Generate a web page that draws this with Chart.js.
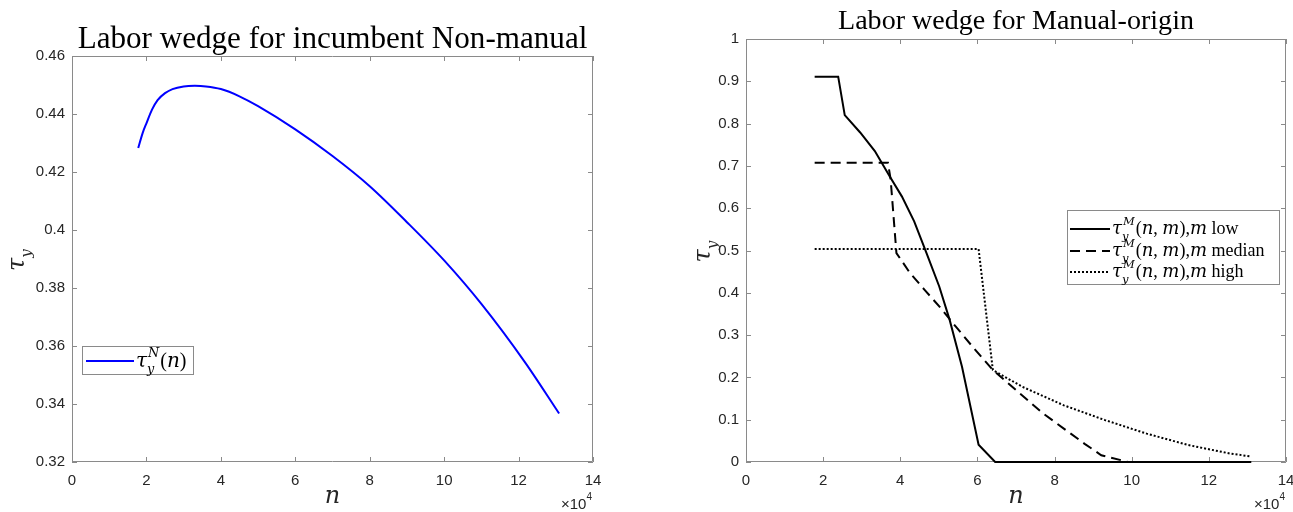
<!DOCTYPE html>
<html>
<head>
<meta charset="utf-8">
<script src="https://cdn.jsdelivr.net/npm/chart.js@4.4.1/dist/chart.umd.min.js"></script>
<style>
  html, body { margin: 0; padding: 0; background: #fff; }
  .panel { position: absolute; top: 0; }
</style>
</head>
<body>
<div class="panel" style="left:0"><canvas id="nonmanual-chart" width="646" height="512"></canvas></div>
<div class="panel" style="left:646px"><canvas id="manual-chart" width="647" height="512"></canvas></div>
<script>
// n en unidades de 10^4
const nonManualN = [1.78, 1.9, 2.0, 2.15, 2.3, 2.5, 2.7, 3.0, 3.3, 3.6, 4.0, 4.5, 5.0, 6.0, 7.0, 8.0, 9.0, 10.0, 11.0, 12.16, 13.09];
const nonManualTau = [0.4283, 0.4335, 0.4368, 0.4415, 0.4448, 0.4472, 0.4486, 0.4495, 0.4497, 0.4495, 0.4486, 0.4461, 0.4427, 0.4347, 0.4255, 0.4151, 0.4027, 0.3895, 0.3745, 0.3546, 0.3367];

const lowN = [1.78, 2.39, 2.56, 2.96, 3.34, 3.72, 4.04, 4.36, 4.68, 5.01, 5.28, 5.6, 6.03, 6.46, 13.1];
const lowTau = [0.911, 0.911, 0.82, 0.779, 0.735, 0.676, 0.628, 0.569, 0.494, 0.415, 0.336, 0.225, 0.041, 0, 0];

const medianN = [1.78, 3.68, 3.75, 3.9, 4.25, 4.63, 5.01, 5.44, 5.87, 6.4, 7.05, 7.7, 8.24, 8.78, 9.21, 9.91, 13.1];
const medianTau = [0.7075, 0.7075, 0.668, 0.494, 0.447, 0.407, 0.368, 0.32, 0.273, 0.2175, 0.166, 0.115, 0.079, 0.043, 0.016, 0, 0];

const highN = [1.78, 6.03, 6.4, 7.16, 8.24, 9.31, 10.39, 11.47, 12.55, 13.1];
const highTau = [0.5036, 0.5036, 0.2175, 0.178, 0.134, 0.099, 0.067, 0.04, 0.02, 0.013];

const xTicks = { min: 0, max: 14, step: 2 };
const yTicksLeft = { min: 0.32, max: 0.46, step: 0.02 };
const yTicksRight = { min: 0, max: 1, step: 0.1 };

const SERIF = '"Liberation Serif", "DejaVu Serif", serif';
const MATH = '"DejaVu Serif", "Liberation Serif", serif';
const SANS = '"Liberation Sans", Arial, sans-serif';
const AXIS_GRAY = "#8a8a8a";
const TEXT_DARK = "#262626";

const toPoints = (xs, ys) => xs.map((x, i) => ({ x: x, y: ys[i] }));

// texto matemático sencillo: tau con subíndice y superíndice
function mathRun(ctx, x, y, size, segs) {
  let cx = x;
  segs.forEach(([t, k]) => {
    if (k === "tau") {
      ctx.font = `italic ${size}px ${MATH}`;
      ctx.fillText("τ", cx, y);
      cx += ctx.measureText("τ").width;
      const s2 = size * 0.64;
      ctx.font = `italic ${s2}px ${MATH}`;
      ctx.fillText("y", cx, y + size * 0.3);
      let w = ctx.measureText("y").width;
      if (t) {
        ctx.fillText(t, cx + 1, y - size * 0.5);
        w = Math.max(w, ctx.measureText(t).width + 1);
      }
      cx += w + 1;
    } else {
      ctx.font = `${k === "i" ? "italic " : ""}${size}px ${k === "i" ? MATH : SERIF}`;
      ctx.fillText(t, cx, y);
      cx += ctx.measureText(t).width;
    }
  });
  return cx - x;
}

const framePlugin = {
  id: "frame",
  beforeDatasetsDraw(chart) {
    const { ctx, chartArea: a } = chart;
    const xs = chart.scales.x, ys = chart.scales.y;
    ctx.save();
    // marco y marcas hacia dentro
    ctx.strokeStyle = AXIS_GRAY;
    ctx.lineWidth = 1;
    ctx.beginPath();
    ctx.rect(Math.round(a.left) + 0.5, Math.round(a.top) + 0.5, Math.round(a.width) - 1, Math.round(a.height) - 1);
    xs.ticks.forEach((t) => {
      const px = Math.round(xs.getPixelForValue(t.value)) + 0.5;
      ctx.moveTo(px, a.bottom); ctx.lineTo(px, a.bottom - 5);
      ctx.moveTo(px, a.top); ctx.lineTo(px, a.top + 5);
    });
    ys.ticks.forEach((t) => {
      const py = Math.round(ys.getPixelForValue(t.value)) + 0.5;
      ctx.moveTo(a.left, py); ctx.lineTo(a.left + 5, py);
      ctx.moveTo(a.right, py); ctx.lineTo(a.right - 5, py);
    });
    ctx.stroke();
    ctx.restore();
  },
  afterDraw(chart, args, opts) {
    const { ctx, chartArea: a } = chart;
    ctx.save();

    // título ajustado al ancho
    ctx.fillStyle = "#000";
    ctx.textBaseline = "alphabetic";
    ctx.font = `30px ${SERIF}`;
    const tw = ctx.measureText(opts.title).width;
    const ts = 30 * opts.titleWidth / tw;
    ctx.font = `${ts}px ${SERIF}`;
    ctx.textAlign = "center";
    const cx = (a.left + a.right) / 2;
    ctx.fillText(opts.title, cx, opts.titleY);

    // etiqueta eje x
    ctx.font = `italic 24px ${MATH}`;
    ctx.fillStyle = TEXT_DARK;
    ctx.fillText("n", cx, 503);

    // multiplicador x10^4
    ctx.textAlign = "right";
    ctx.font = `10px ${SANS}`;
    const w4 = ctx.measureText("4").width;
    ctx.fillText("4", a.right - 1, 500);
    ctx.font = `15px ${SANS}`;
    ctx.fillText("×10", a.right - 1 - w4, 509);

    // etiqueta eje y
    ctx.save();
    ctx.translate(opts.yLabelX, (a.top + a.bottom) / 2);
    ctx.rotate(-Math.PI / 2);
    ctx.textAlign = "left";
    ctx.fillStyle = TEXT_DARK;
    mathRun(ctx, -12, 0, 24, [["", "tau"]]);
    ctx.restore();

    // leyenda
    const L = opts.legend;
    ctx.fillStyle = "#fff";
    ctx.fillRect(L.x, L.y, L.w, L.h);
    ctx.strokeStyle = AXIS_GRAY;
    ctx.lineWidth = 1;
    ctx.strokeRect(L.x + 0.5, L.y + 0.5, L.w, L.h);
    ctx.textAlign = "left";
    chart.data.datasets.forEach((ds, i) => {
      const ry = L.y + L.rows[i];
      ctx.strokeStyle = ds.borderColor;
      ctx.lineWidth = ds.borderWidth;
      ctx.setLineDash(ds.borderDash || []);
      ctx.beginPath();
      ctx.moveTo(L.x + L.lineOff, ry);
      ctx.lineTo(L.x + L.lineOff + L.lineLen, ry);
      ctx.stroke();
      ctx.setLineDash([]);
      ctx.fillStyle = "#000";
      mathRun(ctx, L.x + L.lineOff + L.lineLen + 2, ry + L.size * 0.3, L.size, L.labels[i]);
    });
    ctx.restore();
  },
};

function axisOptions(range, widthOrHeight, isY, decimals) {
  return {
    type: "linear",
    min: range.min,
    max: range.max,
    grid: { display: false, drawTicks: false },
    border: { display: false },
    ticks: {
      stepSize: range.step,
      autoSkip: false,
      maxRotation: 0,
      color: TEXT_DARK,
      font: { family: SANS, size: 15 },
      padding: isY ? 7 : 10,
      callback: (v) => String(+Number(v).toFixed(decimals)),
    },
    afterFit(s) {
      if (isY) { s.width = widthOrHeight; s.paddingTop = 0; s.paddingBottom = 0; }
      else { s.height = widthOrHeight; s.paddingLeft = 0; s.paddingRight = 0; }
    },
  };
}

// Gráfico Non-manual
new Chart(document.getElementById("nonmanual-chart").getContext("2d"), {
  type: "line",
  data: {
    datasets: [
      {
        label: "tauN",
        data: toPoints(nonManualN, nonManualTau),
        borderColor: "#0000ff",
        borderWidth: 2,
        pointRadius: 0,
        cubicInterpolationMode: "monotone",
        fill: false,
      },
    ],
  },
  options: {
    responsive: false,
    animation: false,
    layout: { padding: { top: 56, right: 53, left: 0, bottom: 0 } },
    scales: {
      x: axisOptions(xTicks, 50, false, 0),
      y: axisOptions(yTicksLeft, 72, true, 2),
    },
    plugins: {
      legend: { display: false },
      tooltip: { enabled: false },
      frame: {
        title: "Labor wedge for incumbent Non-manual",
        titleWidth: 510,
        titleY: 48,
        yLabelX: 24,
        legend: {
          x: 82, y: 346, w: 111, h: 28, rows: [15], lineOff: 4, lineLen: 48, size: 20,
          labels: [[["N", "tau"], ["(", "r"], ["n", "i"], [")", "r"]]],
        },
      },
    },
  },
  plugins: [framePlugin],
});

// Gráfico Manual-origin
const lineBase = { borderColor: "#000", borderWidth: 2, pointRadius: 0, tension: 0, fill: false, clip: 3 };
new Chart(document.getElementById("manual-chart").getContext("2d"), {
  type: "line",
  data: {
    datasets: [
      { ...lineBase, label: "low", data: toPoints(lowN, lowTau) },
      { ...lineBase, label: "median", data: toPoints(medianN, medianTau), borderDash: [10, 6] },
      { ...lineBase, label: "high", data: toPoints(highN, highTau), borderDash: [2, 2] },
    ],
  },
  options: {
    responsive: false,
    animation: false,
    layout: { padding: { top: 39, right: 7, left: 0, bottom: 0 } },
    scales: {
      x: axisOptions(xTicks, 50, false, 0),
      y: axisOptions(yTicksRight, 100, true, 1),
    },
    plugins: {
      legend: { display: false },
      tooltip: { enabled: false },
      frame: {
        title: "Labor wedge for Manual-origin",
        titleWidth: 356,
        titleY: 29,
        yLabelX: 64,
        legend: {
          x: 421, y: 210, w: 212, h: 74, rows: [19, 41, 62], lineOff: 3, lineLen: 40, size: 18,
          labels: [
            [["M", "tau"], ["(", "r"], ["n", "i"], [", ", "r"], ["m", "i"], ["),", "r"], ["m", "i"], [" low", "r"]],
            [["M", "tau"], ["(", "r"], ["n", "i"], [", ", "r"], ["m", "i"], ["),", "r"], ["m", "i"], [" median", "r"]],
            [["M", "tau"], ["(", "r"], ["n", "i"], [", ", "r"], ["m", "i"], ["),", "r"], ["m", "i"], [" high", "r"]],
          ],
        },
      },
    },
  },
  plugins: [framePlugin],
});
</script>
</body>
</html>
